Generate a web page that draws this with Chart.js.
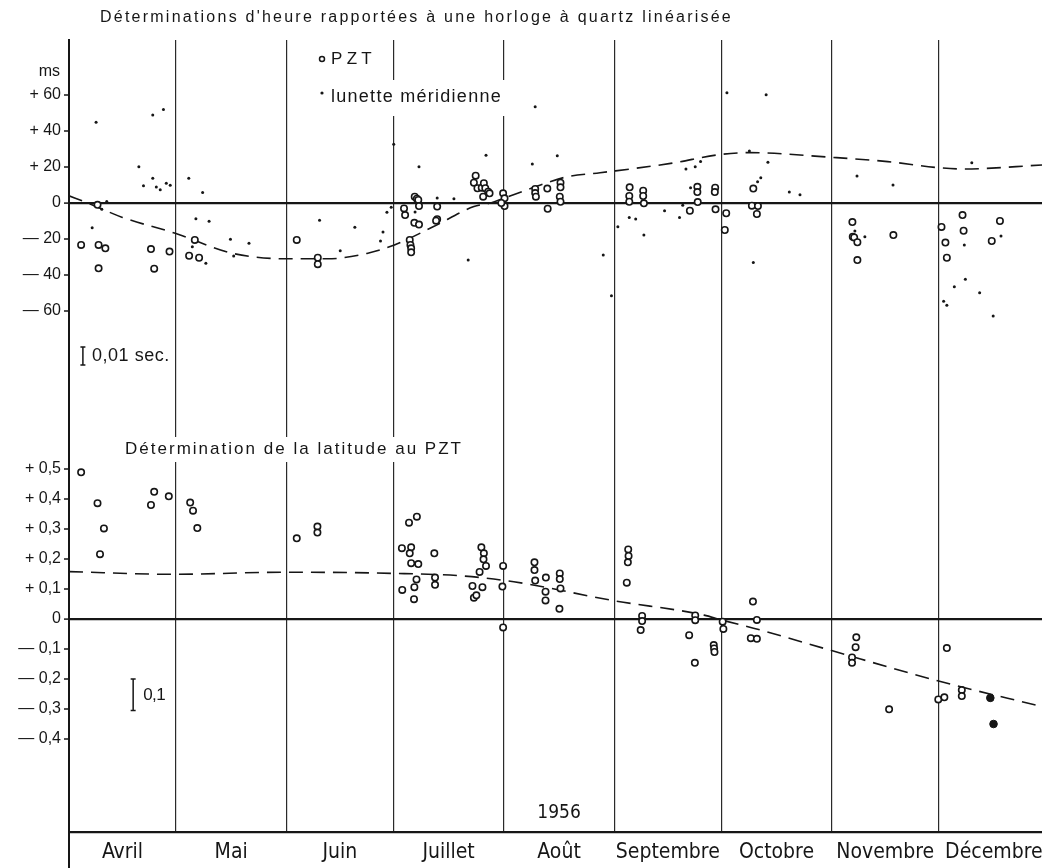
<!DOCTYPE html>
<html lang="fr">
<head>
<meta charset="utf-8">
<title>PZT 1956</title>
<script src="https://cdn.jsdelivr.net/npm/chart.js@4.4.1/dist/chart.umd.min.js"></script>
<style>
  html, body { margin: 0; padding: 0; background: #fff; overflow: hidden; }
  #cadre { position: relative; width: 1042px; height: 868px; }
  #graphique { display: block; }
</style>
</head>
<body>
<div id="cadre"><canvas id="graphique"></canvas></div>
<script>
// Jours comptés depuis le 1er avril 1956
const moisNoms = ['Avril', 'Mai', 'Juin', 'Juillet', 'Août', 'Septembre', 'Octobre', 'Novembre', 'Décembre'];
const moisDebut = [0, 30, 61, 91, 122, 153, 183, 214, 244];
const moisMilieu = [15, 45.5, 76, 106.5, 137.5, 168, 198.5, 229, 259.5];
const finPeriode = 273;

// Heure (ms) - PZT
const heurePztJour = [3.4, 8.3, 10.2, 8.3, 8.0, 23.0, 23.9, 28.2, 35.3, 33.7, 36.5, 63.9, 69.8, 69.8,
  94.0, 94.3, 95.6, 95.8, 96.0, 96.0, 97.0, 97.6, 98.0, 98.2, 96.9, 98.2, 103.3, 103.3, 103.0,
  114.1, 113.6, 114.6, 115.8, 116.4, 116.8, 116.2, 117.6, 118.0, 121.8, 122.2, 122.2, 121.3,
  130.8, 130.8, 131.0, 134.2, 134.3, 137.9, 137.9, 137.7, 137.9, 157.3, 157.2, 157.2, 161.1, 161.1, 161.3,
  174.2, 176.3, 176.3, 176.4, 181.3, 181.2, 181.4, 184.4, 184.0, 192.0, 191.6, 193.3, 193.0,
  219.8, 219.9, 220.3, 221.2, 221.2, 231.3, 244.8, 245.9, 246.3, 250.7, 251.0, 258.9, 261.2];
const heurePztMs = [-23.3, -23.3, -25.2, -36.3, -1, -25.6, -36.5, -27, -20.5, -29.3, -30.4, -20.5, -30.4, -34,
  -3, -6.7, -20.5, -23.3, -25.2, -27.4, 3.5, 2.4, 1.7, -1.7, -11, -12, -2, -9, -9.8,
  15.2, 11.3, 8.2, 8.5, 11, 8.2, 3.5, 6.3, 5.4, 5.4, 2.6, -1.7, 0,
  7.8, 5.5, 3.5, 8, -3.2, 11.3, 8.7, 3.5, 0.7, 8.7, 3.9, 0.7, 6.8, 3.9, -0.2,
  -4.3, 9, 6.1, 0.5, 8.5, 6.1, -3.5, -5.7, -15, 8, -1.5, -1.7, -6.1,
  -10.6, -18.7, -19.1, -21.8, -31.7, -17.8, -13.3, -22, -30.4, -6.7, -15.4, -21.1, -10];

// Heure (ms) - lunette méridienne
const heureLunetteJour = [7.6, 6.5, 10.6, 9.2, 19.6, 20.9, 23.5, 23.5, 24.5, 25.6, 26.5, 27.3, 28.4,
  33.6, 37.5, 35.6, 39.3, 34.6, 38.4, 45.3, 50.5, 46.2, 70.3, 76.1, 80.2, 87.4, 88.1, 89.2, 90.4, 91.1,
  98.2, 97.1, 103.3, 108.0, 112.0, 117.0, 130.8, 130.0, 137.0, 149.9, 152.2, 154.0, 157.2, 159.0, 161.3,
  167.1, 171.3, 172.2, 173.1, 175.7, 177.2, 174.4, 184.6, 195.6, 190.9, 196.1, 194.1, 193.2, 192.0,
  202.1, 205.1, 221.1, 231.2, 220.5, 223.3, 253.3, 251.2, 261.5, 248.4, 251.5, 255.5, 245.4, 246.3, 259.3];
const heureLunetteMs = [44.8, -13.7, 0.9, -3.5, 20.2, 9.6, 13.7, 48.9, 8.9, 7.4, 52, 11, 9.8,
  13.7, 5.9, -8.7, -10.2, -24.3, -33.5, -20.2, -22.4, -29.4, -9.6, -26.5, -13.5, -21.1, -16.1, -5.2, -2.4, 32.6,
  20.2, -5, 2.8, 2.4, -31.7, 26.5, 53.5, 21.7, 26.3, -28.9, -51.5, -13.2, -8.1, -8.9, -17.8,
  -4.3, -8, -1.3, 18.9, 20.2, 23.1, 8.5, 61.3, 60.2, 28.9, 22.6, 14, 11.8, -33.1,
  6.1, 4.6, 15, 10, -15.6, -18.7, 22.4, -23.3, -18.3, -46.5, -42.4, -49.8, -54.6, -56.8, -62.8];

// Heure (ms) - courbe lissée
const heureCourbeJour = [0, 5.3, 15, 29.8, 46, 61, 72.5, 83.6, 91.3, 102.3, 113.6, 118.3, 122, 132.3,
  139.8, 149, 168.8, 182.9, 190.9, 213.8, 229.7, 244, 251.2, 273];
const heureCourbeMs = [4, 0, -8, -16.8, -28, -31, -31, -28, -23.3, -13.1, -2, 0, 2.6, 10,
  14.6, 16.8, 22, 27, 28, 25.4, 23, 19.6, 18.9, 21.1];

// Latitude (") - PZT
const latPztJour = [3.4, 8, 9.8, 8.7, 23, 23.9, 28, 34, 34.8, 36, 63.9, 69.7, 69.7,
  93.4, 93.5, 95.4, 97.6, 96, 95.6, 96, 98, 97.5, 96.9, 96.8, 102.5, 102.7, 102.7,
  115.7, 116.4, 116.3, 117, 115.2, 113.2, 116, 113.6, 114.3, 121.8, 121.6, 121.8,
  130.6, 130.6, 130.8, 133.8, 133.7, 133.7, 137.7, 137.7, 137.9, 137.6,
  156.9, 157, 156.8, 156.5, 160.8, 160.8, 160.4, 174, 175.7, 175.7, 175.6, 180.9, 181, 181.1, 183.4, 183.6,
  191.9, 193, 191.3, 193, 220.9, 220.7, 219.7, 219.7, 230.1, 246.3, 243.9, 245.6, 250.5, 250.5];
const latPztVal = [0.489, 0.386, 0.302, 0.216, 0.38, 0.424, 0.409, 0.388, 0.361, 0.303, 0.269, 0.308, 0.288,
  0.236, 0.097, 0.321, 0.341, 0.239, 0.219, 0.186, 0.183, 0.132, 0.106, 0.066, 0.219, 0.138, 0.114,
  0.239, 0.219, 0.199, 0.177, 0.157, 0.11, 0.106, 0.071, 0.079, 0.177, 0.108, -0.028,
  0.189, 0.163, 0.128, 0.138, 0.091, 0.062, 0.152, 0.133, 0.102, 0.034,
  0.232, 0.21, 0.189, 0.121, 0.01, -0.007, -0.037, -0.054, 0.012, -0.004, -0.146, -0.087, -0.098, -0.11, -0.009, -0.033,
  0.058, -0.003, -0.064, -0.066, -0.061, -0.094, -0.128, -0.146, -0.301, -0.097, -0.268, -0.261, -0.237, -0.257];

// Latitude - points pleins (décembre)
const latPleinJour = [258.5, 259.4];
const latPleinVal = [-0.263, -0.35];

// Latitude - courbe lissée
const latCourbeJour = [0, 29.3, 60.7, 91.1, 109.8, 124.8, 152.9, 178.2, 183, 194.1, 213.3, 243.7, 273];
const latCourbeVal = [0.158, 0.149, 0.156, 0.152, 0.144, 0.124, 0.061, 0.013, -0.003, -0.037, -0.103, -0.206, -0.292];

// graduations
const ticksMs = [60, 40, 20, 0, -20, -40, -60];
const ticksLat = [0.5, 0.4, 0.3, 0.2, 0.1, 0, -0.1, -0.2, -0.3, -0.4];

const police = '"Liberation Sans", Arial, sans-serif';
const policeEtroite = '"Liberation Sans Narrow", "DejaVu Sans Condensed", sans-serif';
const encre = '#161616';

const points = (xs, ys) => xs.map((x, i) => ({ x, y: ys[i] }));

function etiquette(v, decimales) {
  if (v === 0) return '0';
  const s = decimales ? Math.abs(v).toFixed(1).replace('.', ',') : String(Math.abs(v));
  return (v > 0 ? '+ ' : '— ') + s;
}

// texte avec espacement ajusté à une largeur donnée
function ecrire(ctx, str, x, y, taille, largeur, opts = {}) {
  ctx.save();
  ctx.font = `${opts.poids || 'normal'} ${taille}px ${opts.famille || police}`;
  ctx.letterSpacing = '0px';
  const w0 = ctx.measureText(str).width;
  let esp = 0;
  if (largeur) esp = (largeur - w0) / str.length;
  ctx.letterSpacing = esp + 'px';
  ctx.textBaseline = 'middle';
  ctx.textAlign = 'left';
  if (opts.fond) {
    ctx.fillStyle = '#fff';
    ctx.fillRect(opts.fond[0], opts.fond[1], opts.fond[2], opts.fond[3]);
  }
  ctx.fillStyle = encre;
  ctx.fillText(str, x, y);
  ctx.restore();
}

function barreEchelle(ctx, x, y1, y2) {
  ctx.save();
  ctx.strokeStyle = encre;
  ctx.lineWidth = 1.5;
  ctx.beginPath();
  ctx.moveTo(x, y1); ctx.lineTo(x, y2);
  ctx.moveTo(x - 2.5, y1); ctx.lineTo(x + 2.5, y1);
  ctx.moveTo(x - 2.5, y2); ctx.lineTo(x + 2.5, y2);
  ctx.stroke();
  ctx.restore();
}

const habillage = {
  id: 'habillage',
  afterDatasetsDraw(chart) {
    const { ctx, scales } = chart;
    const sx = scales.x, sMs = scales.y, sLat = scales.yLat;

    // titres
    ecrire(ctx, "Déterminations d'heure rapportées à une horloge à quartz linéarisée", 100, 18, 16, 633);
    ecrire(ctx, 'Détermination de la latitude au PZT', 125, 449, 17, 338,
      { fond: [118, 437, 352, 25] });

    // légende
    ecrire(ctx, 'PZT', 331, 59, 17, 45);
    ecrire(ctx, 'lunette méridienne', 331, 97, 18, 171, { fond: [316, 80, 190, 36] });
    ctx.save();
    ctx.strokeStyle = encre;
    ctx.lineWidth = 1.5;
    ctx.beginPath();
    ctx.arc(322, 59, 2.5, 0, Math.PI * 2);
    ctx.stroke();
    ctx.fillStyle = encre;
    ctx.beginPath();
    ctx.arc(322, 93, 1.6, 0, Math.PI * 2);
    ctx.fill();
    ctx.restore();

    // unité
    ctx.save();
    ctx.font = `16px ${police}`;
    ctx.fillStyle = encre;
    ctx.textAlign = 'right';
    ctx.textBaseline = 'middle';
    ctx.fillText('ms', 60, sMs.getPixelForValue(73));
    ctx.restore();

    // barres d'échelle
    const xb1 = sx.getPixelForValue(3.9);
    barreEchelle(ctx, xb1, sMs.getPixelForValue(-80), sMs.getPixelForValue(-90));
    ecrire(ctx, '0,01 sec.', xb1 + 9, sMs.getPixelForValue(-85), 18, 78);
    const xb2 = sx.getPixelForValue(18);
    barreEchelle(ctx, xb2, sLat.getPixelForValue(-0.2), sLat.getPixelForValue(-0.305));
    ecrire(ctx, '0,1', xb2 + 10, sLat.getPixelForValue(-0.255), 17, 22);

    // année
    ctx.save();
    ctx.font = `19px ${policeEtroite}`;
    ctx.fillStyle = encre;
    ctx.textAlign = 'center';
    ctx.textBaseline = 'middle';
    ctx.fillText('1956', sx.getPixelForValue(137.5), 813);
    ctx.restore();

    // prolongement de l'axe vertical sous l'axe des mois
    ctx.save();
    ctx.strokeStyle = encre;
    ctx.lineWidth = 2;
    ctx.beginPath();
    ctx.moveTo(sx.left, sx.bottom);
    ctx.lineTo(sx.left, chart.height);
    ctx.stroke();
    ctx.restore();
  }
};

const grilleY = {
  color: (c) => (c.tick && c.tick.value === 0 ? encre : 'rgba(0,0,0,0)'),
  lineWidth: (c) => (c.tick && c.tick.value === 0 ? 2.2 : 0),
  tickColor: encre,
  tickLength: 5,
  tickWidth: 1.5
};

// pas de marge latérale ajoutée par les étiquettes des mois
function sansMarge(s, hauteur) {
  s.height = hauteur;
  s.paddingLeft = 0;
  s.paddingRight = 0;
}

new Chart(document.getElementById('graphique'), {
  type: 'scatter',
  data: {
    datasets: [
      {
        label: 'PZT (heure)',
        data: points(heurePztJour, heurePztMs),
        yAxisID: 'y',
        pointRadius: 3.2,
        borderWidth: 1.6,
        borderColor: encre,
        backgroundColor: '#fff',
        order: 0
      },
      {
        label: 'lunette méridienne',
        data: points(heureLunetteJour, heureLunetteMs),
        yAxisID: 'y',
        pointRadius: 1.5,
        borderWidth: 0,
        backgroundColor: encre,
        order: 0
      },
      {
        type: 'line',
        label: 'courbe heure',
        data: points(heureCourbeJour, heureCourbeMs),
        yAxisID: 'y',
        borderColor: encre,
        borderWidth: 1.6,
        borderDash: [14, 8],
        pointRadius: 0,
        cubicInterpolationMode: 'monotone',
        fill: false,
        order: 2
      },
      {
        label: 'PZT (latitude)',
        data: points(latPztJour, latPztVal),
        yAxisID: 'yLat',
        pointRadius: 3.2,
        borderWidth: 1.6,
        borderColor: encre,
        backgroundColor: '#fff',
        order: 0
      },
      {
        label: 'PZT (latitude, plein)',
        data: points(latPleinJour, latPleinVal),
        yAxisID: 'yLat',
        pointRadius: 3.8,
        borderWidth: 1,
        borderColor: encre,
        backgroundColor: encre,
        order: 0
      },
      {
        type: 'line',
        label: 'courbe latitude',
        data: points(latCourbeJour, latCourbeVal),
        yAxisID: 'yLat',
        borderColor: encre,
        borderWidth: 1.6,
        borderDash: [14, 8],
        pointRadius: 0,
        cubicInterpolationMode: 'monotone',
        fill: false,
        order: 2
      }
    ]
  },
  options: {
    responsive: true,
    maintainAspectRatio: false,
    animation: false,
    layout: { autoPadding: false, padding: { top: 40, left: 0, right: 0, bottom: 0 } },
    plugins: {
      legend: { display: false },
      tooltip: { enabled: false },
      title: { display: false }
    },
    scales: {
      x: {
        type: 'linear',
        position: 'bottom',
        min: 0,
        max: finPeriode,
        afterBuildTicks: (s) => { s.ticks = moisDebut.map((v) => ({ value: v })); },
        afterFit: (s) => sansMarge(s, 0),
        ticks: { display: false },
        grid: { color: '#2a2a2a', lineWidth: 1.2, drawTicks: false },
        border: { display: true, color: encre, width: 2.2 }
      },
      x2: {
        type: 'linear',
        position: 'bottom',
        min: 0,
        max: finPeriode,
        afterBuildTicks: (s) => { s.ticks = moisMilieu.map((v) => ({ value: v })); },
        afterFit: (s) => sansMarge(s, 36),
        grid: { display: false, drawTicks: false },
        border: { display: false },
        ticks: {
          color: encre,
          padding: 8,
          maxRotation: 0,
          autoSkip: false,
          font: { family: policeEtroite, size: 21 },
          callback: (v, i) => moisNoms[i]
        }
      },
      y: {
        type: 'linear',
        position: 'left',
        stack: 'panneaux',
        stackWeight: 360,
        weight: 1,
        min: -109.44,
        max: 90.56,
        afterBuildTicks: (s) => { s.ticks = ticksMs.map((v) => ({ value: v })); },
        afterFit: (s) => { s.width = 69; },
        grid: grilleY,
        border: { display: true, color: encre, width: 2 },
        ticks: {
          color: encre,
          padding: 3,
          font: { family: police, size: 16 },
          callback: (v) => etiquette(v, false)
        }
      },
      yLat: {
        type: 'linear',
        position: 'left',
        stack: 'panneaux',
        stackWeight: 432,
        weight: 0,
        min: -0.71,
        max: 0.73,
        afterBuildTicks: (s) => { s.ticks = ticksLat.map((v) => ({ value: v })); },
        afterFit: (s) => { s.width = 69; },
        grid: grilleY,
        border: { display: true, color: encre, width: 2 },
        ticks: {
          color: encre,
          padding: 3,
          font: { family: police, size: 16 },
          callback: (v) => etiquette(v, true)
        }
      }
    }
  },
  plugins: [habillage]
});
</script>
</body>
</html>
